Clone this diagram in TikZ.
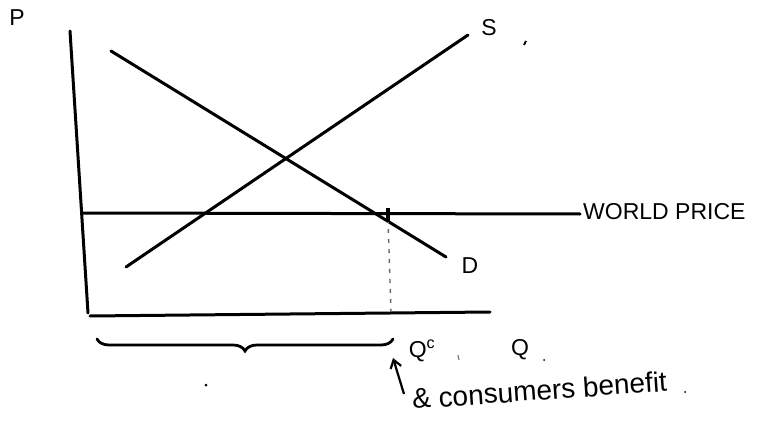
\documentclass[tikz,border=0pt]{standalone}
\usepackage{fontspec}
\setmainfont{Liberation Sans}
\usetikzlibrary{decorations.pathreplacing,arrows.meta}
\begin{document}
\begin{tikzpicture}[x=1pt,y=-1pt,
  curve/.style={line width=3pt,line cap=round,black},
  lbl/.style={inner sep=0pt,font=\fontsize{23}{25}\selectfont},
  speck/.style={fill=black,circle,inner sep=0pt,minimum size=3pt}]
\useasboundingbox (0,0) rectangle (769,428);
% coordinates
\coordinate (ytop) at (70,31);
\coordinate (ybot) at (88,313);
\coordinate (xl) at (90,316);
\coordinate (xr) at (490,312);
\coordinate (wl) at (83,213);
\coordinate (wr) at (580,214);
\coordinate (s1) at (126,267);
\coordinate (s2) at (468,35);
\coordinate (d1) at (111,51);
\coordinate (d2) at (446,257);
\coordinate (qtop) at (388,219);
\coordinate (qbot) at (391,312);
\coordinate (bl) at (97,339);
\coordinate (br) at (393,339);
% axes and curves
\draw[curve] (ytop) -- (ybot);
\draw[curve] (xl) -- (xr);
\draw[curve] (wl) -- (wr);
\draw[curve] (s1) -- (s2);
\draw[curve] (d1) -- (d2);
\draw[line width=1.4pt,black!60,dash pattern=on 4pt off 6pt] (qtop) -- (qbot);
\draw[line width=3.4pt] (388,208) -- (388,222);
% brace
\draw[curve,line width=2.8pt,decorate,decoration={brace,mirror,amplitude=12pt}] (bl) -- (br);
% labels
\node[lbl] (P) at (17,18) {P};
\node[lbl] (S) at (489,28) {S};
\node[lbl] (D) at (470,266) {D};
\node[lbl,anchor=west] (WP) at (583,212) {WORLD PRICE};
\node[lbl] (QC) at (422,351) {Q\textsuperscript{c}};
\node[lbl] (Q) at (520,350) {Q};
% arrow
\coordinate (atail) at (404,394);
\draw[line width=2.2pt,-{Straight Barb[length=8pt,width=11pt]}] (atail) -- (393,358);
\node[lbl,anchor=west,rotate=4,font=\fontsize{28}{30}\selectfont] (CB) at (412,399) {\& consumers benefit};
% specks
\node[speck] (d0) at (206,385) {};
\node[speck,minimum size=2pt] (d3) at (685,392) {};
\node[speck,minimum size=2pt] (d4) at (544,360) {};
\draw[line width=2pt] (526,41) -- (524,45);
\draw[line width=1.2pt,black!50] (458,355) -- (459,360);
\end{tikzpicture}
\end{document}
